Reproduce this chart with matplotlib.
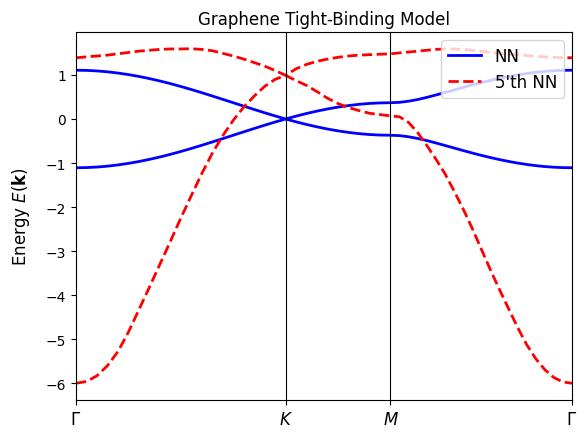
import numpy as np
import matplotlib
matplotlib.use("Agg")
import matplotlib.pyplot as plt

# k-path: Gamma -> K -> M -> Gamma (lengths in units of |Gamma K|)
SEG_LEN = [1.0, 0.5, 0.866]
labels = [r"$\Gamma$", r"$K$", r"$M$", r"$\Gamma$"]

# Gamma-K: 21 points, K-M: 10 more, M-Gamma: 20 more
nn_up = [1.107, 1.103, 1.091, 1.071, 1.043, 1.008, 0.966, 0.917, 0.863, 0.803, 0.738,
         0.669, 0.597, 0.522, 0.446, 0.369, 0.292, 0.216, 0.141, 0.069, 0.0,
         0.065, 0.125, 0.179, 0.228, 0.270, 0.305, 0.333, 0.353, 0.365, 0.369,
         0.378, 0.404, 0.442, 0.490, 0.544, 0.601, 0.658, 0.716, 0.772, 0.825,
         0.875, 0.921, 0.963, 1.000, 1.032, 1.059, 1.080, 1.095, 1.104, 1.107]
nn_dn = [-1.107, -1.103, -1.091, -1.071, -1.043, -1.008, -0.966, -0.917, -0.863, -0.803, -0.738,
         -0.669, -0.597, -0.522, -0.446, -0.369, -0.292, -0.216, -0.141, -0.069, 0.0,
         -0.065, -0.125, -0.179, -0.228, -0.270, -0.305, -0.333, -0.353, -0.365, -0.369,
         -0.378, -0.404, -0.442, -0.490, -0.544, -0.601, -0.658, -0.716, -0.772, -0.825,
         -0.875, -0.921, -0.963, -1.000, -1.032, -1.059, -1.080, -1.095, -1.104, -1.107]
nn5_up = [1.39, 1.41, 1.43, 1.45, 1.48, 1.51, 1.54, 1.56, 1.58, 1.59, 1.59,
          1.595, 1.58, 1.55, 1.49, 1.43, 1.36, 1.28, 1.20, 1.10, 0.99,
          1.14, 1.24, 1.31, 1.36, 1.40, 1.43, 1.45, 1.46, 1.47, 1.48,
          1.50, 1.52, 1.54, 1.56, 1.58, 1.59, 1.59, 1.58, 1.56, 1.54,
          1.51, 1.49, 1.47, 1.46, 1.44, 1.42, 1.41, 1.40, 1.39, 1.39]
nn5_dn = [-6.00, -5.96, -5.83, -5.60, -5.28, -4.84, -4.33, -3.82, -3.30, -2.78, -2.25,
          -1.74, -1.24, -0.78, -0.38, -0.03, 0.27, 0.52, 0.74, 0.90, 0.99,
          0.87, 0.76, 0.62, 0.47, 0.35, 0.26, 0.19, 0.13, 0.10, 0.07,
          0.05, -0.08, -0.31, -0.60, -0.91, -1.24, -1.63, -2.04, -2.48, -2.95,
          -3.42, -3.87, -4.30, -4.73, -5.12, -5.44, -5.69, -5.87, -5.97, -6.00]

# path coordinate for each sample
nodes = np.concatenate([[0], np.cumsum(SEG_LEN)])
k = np.concatenate([
    np.linspace(nodes[0], nodes[1], 21),
    np.linspace(nodes[1], nodes[2], 11)[1:],
    np.linspace(nodes[2], nodes[3], 21)[1:],
])

fig = plt.figure(figsize=(5.87, 4.39), dpi=100)
ax = fig.add_axes([76 / 587, 1 - 401 / 439, 496 / 587, 368 / 439])

ax.plot(k, nn_up, color="blue", lw=2, label="NN")
ax.plot(k, nn_dn, color="blue", lw=2)
ax.plot(k, nn5_up, color="red", lw=2, ls="--", label="5'th NN")
ax.plot(k, nn5_dn, color="red", lw=2, ls="--")

for x in nodes[1:-1]:
    ax.axvline(x, color="black", lw=0.8)

ax.set_xlim(nodes[0], nodes[-1])
ax.set_xticks(nodes)
ax.set_xticklabels(labels, fontsize=12)
ax.set_ylabel(r"Energy $E(\mathbf{k})$", fontsize=12, labelpad=10)
ax.set_title("Graphene Tight-Binding Model")
ax.legend(loc="upper right", fontsize=12)

fig.savefig("out.png", dpi=100)
